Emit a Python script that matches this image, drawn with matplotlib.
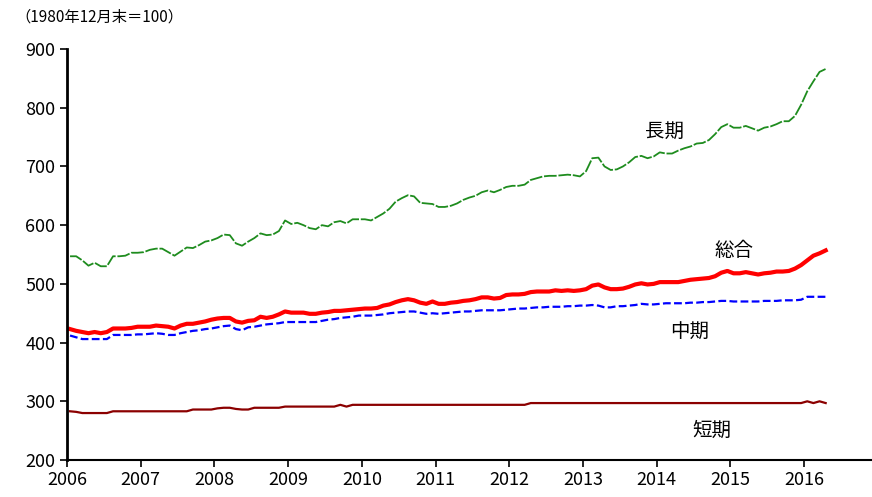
import numpy as np
import matplotlib
matplotlib.use("Agg")
import matplotlib.pyplot as plt

plt.rcParams["font.family"] = ["Liberation Sans Narrow", "Noto Sans CJK JP", "DejaVu Sans"]

# ── data (monthly, Jan 2006 .. Apr 2016) ─────────────────────────────────────
long_term = [
    547, 547, 540, 531, 536, 530, 530, 547, 547, 548, 553, 553,
    554, 558, 560, 560, 554, 548, 555, 562, 561, 566, 572, 574,
    578, 584, 583, 569, 565, 572, 578, 586, 583, 584, 590, 608,
    602, 604, 600, 595, 593, 600, 598, 605, 607, 603, 610, 610,
    610, 608, 614, 620, 628, 640, 646, 651, 649, 638, 637, 636,
    631, 631, 633, 637, 643, 647, 650, 656, 659, 656, 660, 665,
    667, 667, 669, 677, 680, 683, 684, 684, 685, 686, 685, 683,
    692, 714, 715, 700, 694, 695, 700, 707, 716, 718, 714, 717,
    724, 722, 722, 727, 731, 734, 739, 740, 745, 755, 767, 772,
    766, 766, 769, 765, 761, 766, 768, 772, 777, 777, 786, 805,
    828, 845, 861, 866,
]
total = [
    423, 420, 418, 416, 418, 416, 418, 424, 424, 424, 425, 427,
    427, 427, 429, 428, 427, 424, 429, 432, 432, 434, 436, 439,
    441, 442, 442, 436, 434, 437, 438, 444, 442, 444, 448, 453,
    451, 451, 451, 449, 449, 451, 452, 454, 454, 455, 456, 457,
    458, 458, 459, 463, 465, 469, 472, 474, 472, 468, 466, 470,
    466, 466, 468, 469, 471, 472, 474, 477, 477, 475, 476, 481,
    482, 482, 483, 486, 487, 487, 487, 489, 488, 489, 488, 489,
    491, 497, 499, 494, 491, 491, 492, 495, 499, 501, 499, 500,
    503, 503, 503, 503, 505, 507, 508, 509, 510, 513, 519, 522,
    518, 518, 520, 518, 516, 518, 519, 521, 521, 522, 526, 532,
    540, 548, 552, 557,
]
mid_term = [
    412, 409, 406, 406, 406, 406, 406, 413, 413, 413, 413, 414,
    414, 415, 416, 415, 413, 413, 416, 418, 420, 421, 423, 424,
    426, 428, 429, 423, 421, 426, 427, 429, 431, 432, 433, 435,
    435, 435, 435, 435, 435, 437, 439, 440, 442, 443, 444, 446,
    446, 446, 447, 448, 450, 451, 452, 453, 453, 451, 449, 450,
    449, 450, 451, 452, 453, 453, 454, 455, 455, 455, 455, 456,
    457, 458, 458, 459, 460, 460, 461, 461, 461, 462, 462, 463,
    463, 464, 463, 460, 460, 462, 462, 463, 464, 466, 465, 465,
    466, 467, 467, 467, 467, 468, 468, 469, 469, 470, 471, 471,
    470, 470, 470, 470, 470, 471, 471, 471, 472, 472, 472, 473,
    478, 478, 478, 478,
]
short_term = [
    283, 282, 280, 280, 280, 280, 280, 283, 283, 283, 283, 283,
    283, 283, 283, 283, 283, 283, 283, 283, 286, 286, 286, 286,
    288, 289, 289, 287, 286, 286, 289, 289, 289, 289, 289, 291,
    291, 291, 291, 291, 291, 291, 291, 291, 294, 291, 294, 294,
    294, 294, 294, 294, 294, 294, 294, 294, 294, 294, 294, 294,
    294, 294, 294, 294, 294, 294, 294, 294, 294, 294, 294, 294,
    294, 294, 294, 297, 297, 297, 297, 297, 297, 297, 297, 297,
    297, 297, 297, 297, 297, 297, 297, 297, 297, 297, 297, 297,
    297, 297, 297, 297, 297, 297, 297, 297, 297, 297, 297, 297,
    297, 297, 297, 297, 297, 297, 297, 297, 297, 297, 297, 297,
    300, 297, 300, 297,
]
years = list(range(2006, 2017))
y_ticks = [200, 300, 400, 500, 600, 700, 800, 900]

# month index -> position inside its year
x = 2006 + (np.arange(len(total)) + 0.5) / 12

GREEN = "#1e8c1e"
RED   = "#ff0000"
BLUE  = "#0000ff"
BROWN = "#8b0000"

fig = plt.figure(figsize=(8.72, 4.97), dpi=100)
ax = fig.add_axes([0.0768, 0.0744, 0.9232, 0.827])

ax.plot(x, short_term, color=BROWN, lw=1.6)
ax.plot(x, mid_term, color=BLUE, lw=1.6, ls=(0, (3.5, 1.5)))
ax.plot(x, long_term, color=GREEN, lw=1.3, ls=(0, (7, 1)))
ax.plot(x, total, color=RED, lw=3.0)

ax.set_xlim(2006, 2016.92)
ax.set_ylim(200, 900)
ax.set_xticks(years)
ax.set_xticklabels([str(y) for y in years])
ax.set_yticks(y_ticks)
ax.tick_params(axis="both", labelsize=13, length=5, width=1.2, direction="out")
ax.tick_params(axis="x", pad=3)

for side in ("top", "right"):
    ax.spines[side].set_visible(False)
ax.spines["left"].set_linewidth(2)
ax.spines["bottom"].set_linewidth(1.5)

label_font = ["Noto Sans CJK JP", "DejaVu Sans"]
label_kw = dict(fontsize=14, family=label_font, ha="center", va="center")
ax.text(2014.1, 760, "長期", **label_kw)
ax.text(2015.05, 556, "総合", **label_kw)
ax.text(2014.45, 418, "中期", **label_kw)
ax.text(2014.75, 251, "短期", **label_kw)

fig.text(0.018, 0.966, "（1980年12月末＝100）", fontsize=11, family=label_font,
         ha="left", va="center")

fig.savefig("out.png", dpi=100)
